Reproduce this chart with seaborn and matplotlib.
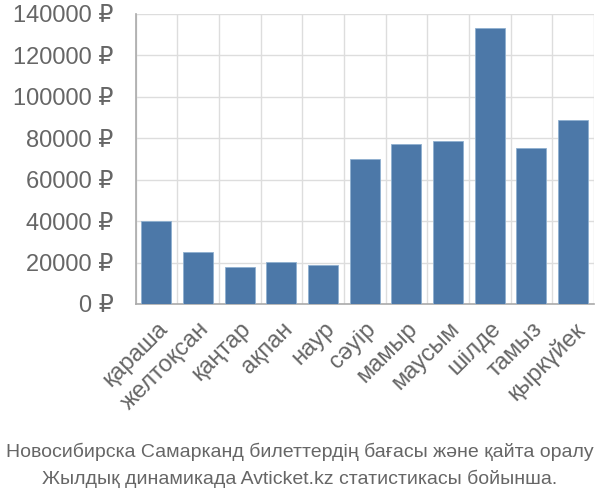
import numpy as np
import pandas as pd
import matplotlib
matplotlib.use('Agg')
import matplotlib.pyplot as plt
import seaborn as sns
from matplotlib.ticker import FixedLocator, FuncFormatter

sns.set_style('white')
plt.rcParams['font.family'] = ['Liberation Sans', 'DejaVu Sans']

## data
months = ['қараша', 'желтоқсан', 'қаңтар', 'ақпан', 'наур', 'сәуір',
          'мамыр', 'маусым', 'шілде', 'тамыз', 'қыркүйек']
prices = [40000, 24900, 17900, 20500, 19000, 69800,
          77100, 78500, 133200, 75500, 88700]
y_ticks = [0, 20000, 40000, 60000, 80000, 100000, 120000, 140000]
caption = ('Новосибирска Самарканд билеттердің бағасы және қайта оралу\n'
           'Жылдық динамикада Avticket.kz статистикасы бойынша.')

df = pd.DataFrame({'month': months, 'price': prices})

fig = plt.figure(figsize=(6, 5), dpi=100)
ax = fig.add_axes([0.226, 0.392, 0.764, 0.58])

sns.barplot(data=df, x='month', y='price', color='#4c78a8', saturation=1,
            width=0.72, edgecolor='#8fb0d0', linewidth=0.6, ax=ax, zorder=3)

grey = '#666666'
ax.set_ylim(0, 140000)
ax.set_xlim(-0.5, len(months) - 0.5)
ax.yaxis.set_major_locator(FixedLocator(y_ticks))
ax.yaxis.set_major_formatter(FuncFormatter(lambda v, p: f'{int(v)} ₽'))
ax.tick_params(axis='y', length=16, width=1, color='#dddddd', labelsize=17,
               labelcolor=grey, pad=0)

# category boundaries for vertical grid and tick marks
ax.set_xticks(np.arange(len(months) + 1) - 0.5, minor=True)
ax.tick_params(axis='x', which='minor', length=14, width=1, color='#dddddd')
ax.tick_params(axis='x', which='major', length=0, labelsize=17,
               labelcolor=grey, pad=10)
plt.setp(ax.get_xticklabels(), rotation=45, ha='right', rotation_mode='anchor')

ax.grid(True, which='minor', axis='x', color='#dddddd', lw=1, zorder=0)
ax.grid(True, which='major', axis='y', color='#dddddd', lw=1, zorder=0)

for s in ['top', 'right']:
    ax.spines[s].set_visible(False)
ax.spines['left'].set_color('#aaaaaa')
ax.spines['bottom'].set_color('#aaaaaa')
ax.spines['left'].set_linewidth(1.2)
ax.spines['bottom'].set_linewidth(1.2)

ax.set_xlabel('')
ax.set_ylabel('')

fig.text(0.5, 0.025, caption, ha='center', va='bottom', fontsize=14,
         color=grey, linespacing=1.55)

fig.savefig('out.png', dpi=100)
